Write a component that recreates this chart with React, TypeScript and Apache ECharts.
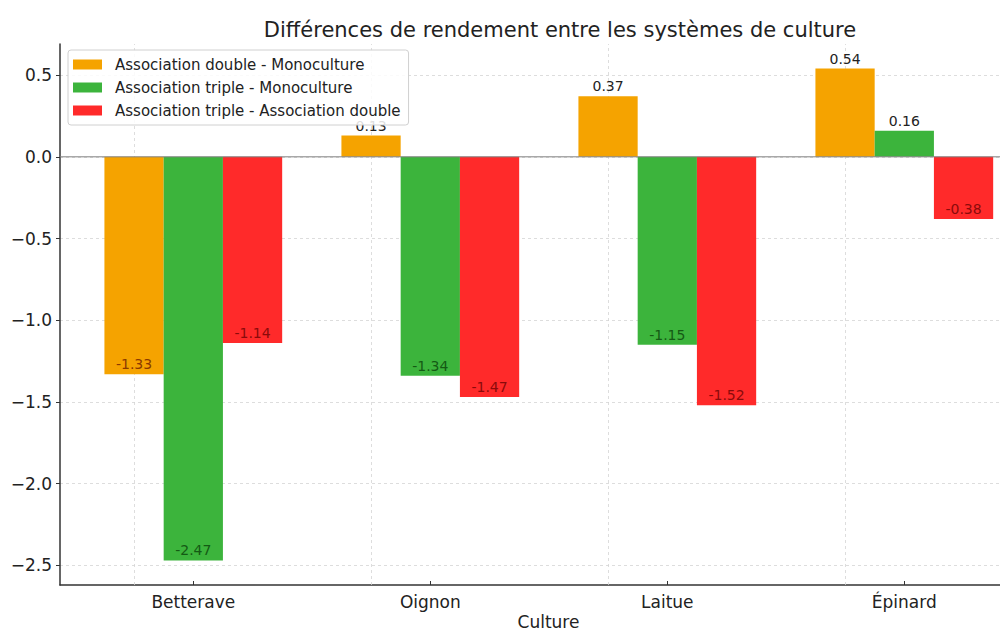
import React, { useEffect, useRef } from "react";
import * as echarts from "echarts";

// Yield differences per crop between cropping systems
const categories = ["Betterave", "Oignon", "Laitue", "Épinard"];
const doubleVsMono = [-1.33, 0.13, 0.37, 0.54];
const tripleVsMono = [-2.47, -1.34, -1.15, 0.16];
const tripleVsDouble = [-1.14, -1.47, -1.52, -0.38];

const seriesNames = [
  "Association double - Monoculture",
  "Association triple - Monoculture",
  "Association triple - Association double",
];
const barColors = ["#F5A300", "#3CB43C", "#FF2A2A"];
const insideLabelColors = ["#8A3A00", "#145A14", "#8B0A0A"];

// value range padded by 5% like the plotting default
const yMin = -2.6205;
const yMax = 0.6905;
const yTicks = [-2.5, -2.0, -1.5, -1.0, -0.5, 0.0, 0.5];

const FONT = "DejaVu Sans";

function fmtTick(v: number): string {
  const s = Math.abs(v).toFixed(1);
  return v < 0 ? "\u2212" + s : s;
}

function barSeries(idx: number, values: number[]) {
  return {
    name: seriesNames[idx],
    type: "bar",
    xAxisIndex: 1,
    yAxisIndex: 1,
    barWidth: "25%",
    barGap: "0%",
    itemStyle: { color: barColors[idx] },
    z: 3,
    data: values.map((v) => ({
      value: v,
      label: {
        show: true,
        position: v >= 0 ? "top" : "insideBottom",
        distance: 3,
        color: v >= 0 ? "#222" : insideLabelColors[idx],
        fontSize: 14,
        fontFamily: FONT,
        formatter: () => v.toFixed(2),
      },
    })),
  };
}

export default function App() {
  const ref = useRef<HTMLDivElement>(null);

  useEffect(() => {
    if (!ref.current) return;
    const chart = echarts.init(ref.current, null, { renderer: "svg" });
    const top = 44;
    const bottom = 50;
    chart.setOption({
      animation: false,
      backgroundColor: "#fff",
      title: {
        text: "Différences de rendement entre les systèmes de culture",
        left: 555,
        top: 14,
        textAlign: "center",
        textStyle: { fontFamily: FONT, fontSize: 21, fontWeight: "normal", color: "#222" },
      },
      legend: {
        data: seriesNames,
        orient: "vertical",
        left: 68,
        top: 50,
        icon: "rect",
        itemWidth: 29,
        itemHeight: 10,
        itemGap: 8,
        padding: [7, 8, 7, 5],
        backgroundColor: "rgba(255,255,255,0.85)",
        borderColor: "#d0d0d0",
        borderWidth: 1,
        borderRadius: 3,
        z: 10,
        textStyle: {
          fontFamily: FONT,
          fontSize: 15,
          lineHeight: 15,
          color: "#222",
          padding: [0, 0, 0, 8],
        },
      },
      grid: [
        { left: 60, width: 977, top, bottom, outerBoundsMode: "none" },
        { left: 74.8, width: 948, top, bottom, outerBoundsMode: "none" },
      ],
      xAxis: [
        {
          type: "value",
          gridIndex: 0,
          min: 0,
          max: 1,
          axisLine: { show: true, onZero: false, lineStyle: { color: "#333", width: 1.5 } },
          axisTick: { show: false },
          axisLabel: { show: false },
          splitLine: { show: false },
          name: "Culture",
          nameLocation: "middle",
          nameGap: 28,
          nameTextStyle: { fontFamily: FONT, fontSize: 17, color: "#222" },
        },
        {
          type: "category",
          gridIndex: 1,
          data: categories,
          axisLine: { show: false, onZero: false },
          axisTick: {
            show: true,
            alignWithLabel: true,
            inside: true,
            length: 4,
            lineStyle: { color: "#333", width: 1 },
          },
          axisLabel: { fontFamily: FONT, fontSize: 17, color: "#222", margin: 8 },
          splitLine: { show: false },
        },
      ],
      yAxis: [
        {
          type: "value",
          gridIndex: 0,
          min: yMin,
          max: yMax,
          axisLine: { show: true, lineStyle: { color: "#333", width: 1.5 } },
          axisTick: {
            show: true,
            length: 4,
            customValues: yTicks,
            lineStyle: { color: "#333", width: 1 },
          },
          axisLabel: {
            customValues: yTicks,
            fontFamily: FONT,
            fontSize: 17,
            color: "#222",
            margin: 8,
            formatter: (v: number) => fmtTick(v),
          },
          splitLine: {
            show: true,
            lineStyle: { color: "#d4d4d4", type: [3, 3], width: 0.8 },
          },
        },
        {
          type: "value",
          gridIndex: 1,
          min: yMin,
          max: yMax,
          show: false,
          splitLine: { show: false },
        },
      ],
      series: [
        {
          // zero reference line across the plot
          type: "line",
          xAxisIndex: 0,
          yAxisIndex: 0,
          data: [
            [0, 0],
            [1, 0],
          ],
          symbol: "none",
          silent: true,
          z: 4,
          lineStyle: { color: "#808080", width: 1 },
        },
        {
          ...barSeries(0, doubleVsMono),
          markLine: {
            silent: true,
            symbol: "none",
            label: { show: false },
            z: 1,
            lineStyle: { color: "#d4d4d4", type: [3, 3], width: 0.8 },
            data: categories.map((c) => ({ xAxis: c })),
          },
        },
        barSeries(1, tripleVsMono),
        barSeries(2, tripleVsDouble),
      ],
    });
    return () => chart.dispose();
  }, []);

  return (
    <div
      ref={ref}
      style={{ position: "fixed", left: 0, top: 0, width: 1000, height: 635, background: "#fff" }}
    />
  );
}
